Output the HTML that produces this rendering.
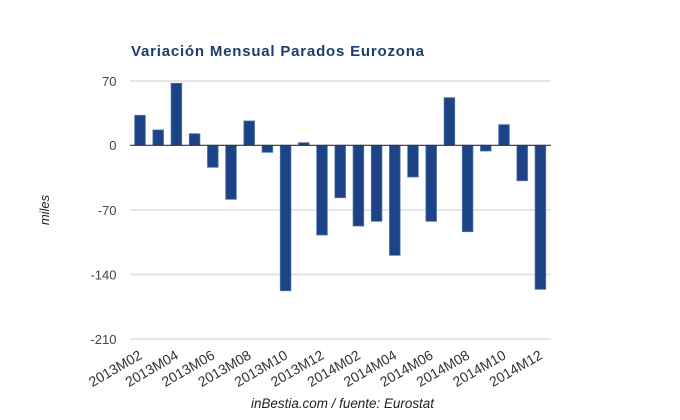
<!DOCTYPE html>
<html>
<head>
<meta charset="utf-8">
<style>
html,body{margin:0;padding:0;background:#fff;}
svg{display:block;}
</style>
</head>
<body>
<svg width="680" height="420" viewBox="0 0 680 420" xmlns="http://www.w3.org/2000/svg" font-family="'Liberation Sans', Arial, sans-serif">
<rect width="680" height="420" fill="#fff"/>
<text x="131" y="56" font-size="15" font-weight="bold" fill="#1c3e6d" textLength="293" lengthAdjust="spacing">Variación Mensual Parados Eurozona</text>

<!-- gridlines -->
<g stroke="#dddddd" stroke-width="1.5">
<line x1="130" y1="81" x2="551" y2="81"/>
<line x1="130" y1="210" x2="551" y2="210"/>
<line x1="130" y1="274.5" x2="551" y2="274.5"/>
<line x1="130" y1="339" x2="551" y2="339"/>
</g>

<!-- y labels -->
<g font-size="13" fill="#444" text-anchor="end">
<text x="116.5" y="86">70</text>
<text x="116.5" y="150">0</text>
<text x="116.5" y="215">-70</text>
<text x="116.5" y="279.5">-140</text>
<text x="116.5" y="344">-210</text>
</g>

<text x="49" y="210" font-size="13" font-style="italic" fill="#222" text-anchor="middle" transform="rotate(-90 49 210)">miles</text>

<!-- bars -->
<g fill="#1c4385" stroke="#4d70a8" stroke-width="0.8">
<rect x="134.7" y="115.3" width="10.6" height="30"/>
<rect x="152.9" y="130" width="10.6" height="15.3"/>
<rect x="171.1" y="83.3" width="10.6" height="62"/>
<rect x="189.3" y="133.7" width="10.6" height="11.6"/>
<rect x="207.5" y="145.3" width="10.6" height="22"/>
<rect x="225.7" y="145.3" width="10.6" height="54"/>
<rect x="243.9" y="121" width="10.6" height="24.3"/>
<rect x="262.1" y="145.3" width="10.6" height="7"/>
<rect x="280.3" y="145.3" width="10.6" height="145.4"/>
<rect x="298.5" y="142.7" width="10.6" height="2.6"/>
<rect x="316.7" y="145.3" width="10.6" height="89.7"/>
<rect x="334.9" y="145.3" width="10.6" height="52.4"/>
<rect x="353.1" y="145.3" width="10.6" height="80.7"/>
<rect x="371.3" y="145.3" width="10.6" height="76"/>
<rect x="389.5" y="145.3" width="10.6" height="110"/>
<rect x="407.7" y="145.3" width="10.6" height="31.7"/>
<rect x="425.9" y="145.3" width="10.6" height="76"/>
<rect x="444.1" y="97.7" width="10.6" height="47.6"/>
<rect x="462.3" y="145.3" width="10.6" height="86.4"/>
<rect x="480.5" y="145.3" width="10.6" height="5.7"/>
<rect x="498.7" y="124.7" width="10.6" height="20.6"/>
<rect x="516.9" y="145.3" width="10.6" height="35.4"/>
<rect x="535.1" y="145.3" width="10.6" height="144"/>
</g>

<line x1="130" y1="145.3" x2="551" y2="145.3" stroke="#333" stroke-width="1.2"/>

<!-- x labels -->
<g font-size="14" fill="#333" text-anchor="end">
<text x="143" y="358" transform="rotate(-30 143 358)">2013M02</text>
<text x="179.4" y="358" transform="rotate(-30 179.4 358)">2013M04</text>
<text x="215.8" y="358" transform="rotate(-30 215.8 358)">2013M06</text>
<text x="252.2" y="358" transform="rotate(-30 252.2 358)">2013M08</text>
<text x="288.6" y="358" transform="rotate(-30 288.6 358)">2013M10</text>
<text x="325" y="358" transform="rotate(-30 325 358)">2013M12</text>
<text x="361.4" y="358" transform="rotate(-30 361.4 358)">2014M02</text>
<text x="397.8" y="358" transform="rotate(-30 397.8 358)">2014M04</text>
<text x="434.2" y="358" transform="rotate(-30 434.2 358)">2014M06</text>
<text x="470.6" y="358" transform="rotate(-30 470.6 358)">2014M08</text>
<text x="507" y="358" transform="rotate(-30 507 358)">2014M10</text>
<text x="543.4" y="358" transform="rotate(-30 543.4 358)">2014M12</text>
</g>

<text x="251" y="408" font-size="13.5" font-style="italic" fill="#222" textLength="183" lengthAdjust="spacingAndGlyphs">inBestia.com / fuente: Eurostat</text>
</svg>
</body>
</html>
